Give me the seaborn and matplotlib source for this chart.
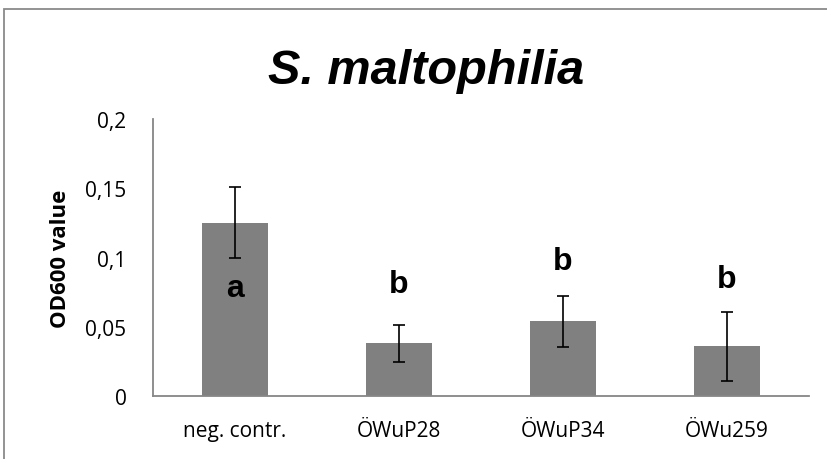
import numpy as np
import pandas as pd
import matplotlib
matplotlib.use("Agg")
import matplotlib.pyplot as plt
import matplotlib.patches as patches
import seaborn as sns

# data
strains = ["neg. contr.", "ÖWuP28", "ÖWuP34", "ÖWu259"]
od600 = [0.125, 0.038, 0.054, 0.036]
od600_err = [0.0257, 0.0136, 0.0184, 0.025]
letters = ["a", "b", "b", "b"]
letter_y = [0.078, 0.081, 0.0975, 0.0845]
yticks = [0, 0.05, 0.1, 0.15, 0.2]
ytick_labels = ["0", "0,05", "0,1", "0,15", "0,2"]

df = pd.DataFrame({"strain": strains, "od": od600})

sns.set_style("white")
plt.rcParams["font.family"] = ["Open Sans", "DejaVu Sans"]
plt.rcParams["text.color"] = "black"

arial = ["Liberation Sans", "DejaVu Sans"]

fig = plt.figure(figsize=(8.27, 4.6), dpi=100)
ax = fig.add_axes([153 / 827, 1 - 397 / 460, (809 - 153) / 827, (397 - 120) / 460])

sns.barplot(data=df, x="strain", y="od", color="#808080", saturation=1,
            width=0.40, ax=ax, errorbar=None)
for p in ax.patches:
    p.set_edgecolor("none")

xpos = np.arange(len(strains))
ax.errorbar(xpos, od600, yerr=od600_err, fmt="none", ecolor="black",
            elinewidth=1.2, capsize=4.3, capthick=1.2)

for x, lab, y in zip(xpos, letters, letter_y):
    ax.text(x, y, lab, ha="center", va="center", fontsize=23,
            fontweight="bold", family=arial, color="black")

ax.set_ylim(0, 0.2)
ax.set_xlim(-0.5, 3.5)
ax.set_yticks(yticks)
ax.set_yticklabels(ytick_labels)
ax.tick_params(axis="both", length=0, labelsize=15, colors="black")
ax.tick_params(axis="y", pad=19)
ax.tick_params(axis="x", pad=17)
ax.set_xlabel("")
ax.set_ylabel("OD600 value", fontsize=16, fontweight="bold", labelpad=10,
              color="black")

sns.despine(ax=ax)
for s in ["left", "bottom"]:
    ax.spines[s].set_color("#868686")
    ax.spines[s].set_linewidth(1.3)

fig.text(426 / 827, 1 - 84 / 460, "S. maltophilia", ha="center", va="baseline",
         fontsize=35, fontweight="bold", style="italic", family=arial,
         color="black")

# outer chart frame
frame = patches.Rectangle((4 / 827, -0.2), 1.2, 1.2 - 10 / 460,
                          transform=fig.transFigure, fill=False,
                          edgecolor="#8a8a8a", linewidth=1.3)
fig.patches.append(frame)

fig.savefig("out.png", dpi=100)
